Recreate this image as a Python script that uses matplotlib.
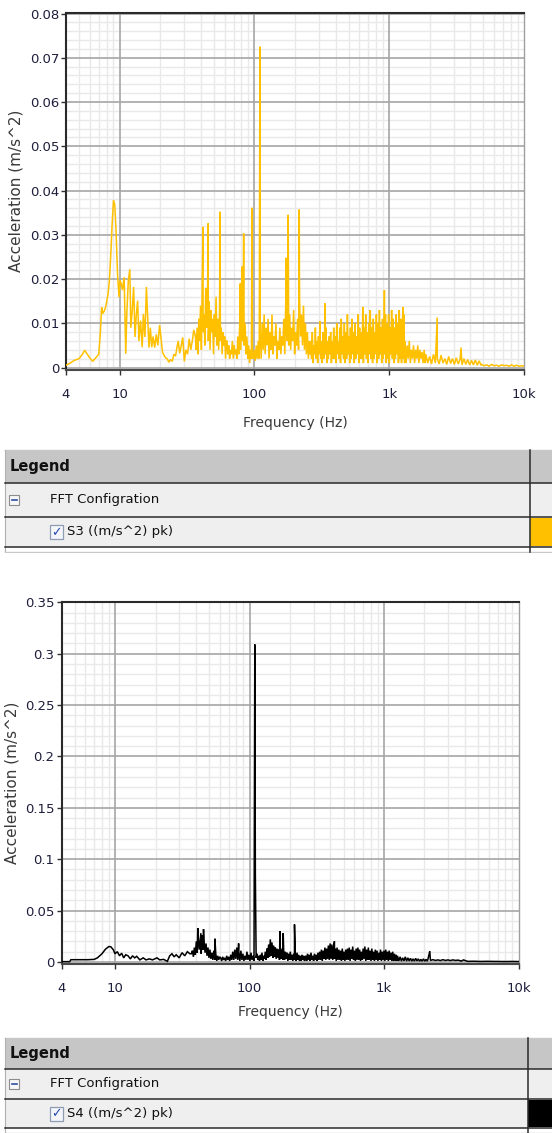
import numpy as np
import matplotlib
matplotlib.use("Agg")
import matplotlib.pyplot as plt
from matplotlib.ticker import FixedLocator, FixedFormatter, NullFormatter
from matplotlib.patches import Rectangle

plt.rcParams['font.family'] = ['DejaVu Sans']

W, H = 552, 1133

# ---- S3 spectrum (m/s^2 pk) ----
s3_trace = [(4.0, 0.0005), (4.3, 0.001), (4.6, 0.0016), (5.0, 0.002), (5.3, 0.003),
            (5.5, 0.0039), (5.9, 0.0025), (6.3, 0.0014), (6.7, 0.0023), (7.0, 0.003),
            (7.2, 0.008), (7.35, 0.0136), (7.5, 0.0122), (7.7, 0.0128), (7.9, 0.0138),
            (8.2, 0.0166), (8.4, 0.0197), (8.6, 0.0257), (8.8, 0.0325), (9.0, 0.0378),
            (9.2, 0.0368), (9.4, 0.031), (9.65, 0.021), (9.9, 0.0159), (10.05, 0.0197),
            (10.3, 0.0189), (10.5, 0.0175), (10.8, 0.0204), (11.1, 0.0031), (11.3, 0.012),
            (11.6, 0.0197), (11.9, 0.0222), (12.1, 0.009), (12.4, 0.0129), (12.7, 0.0182),
            (13.0, 0.0069), (13.3, 0.0121), (13.6, 0.0151), (13.9, 0.006), (14.3, 0.0106),
            (14.7, 0.0046), (15.0, 0.0121), (15.4, 0.0069), (15.8, 0.0182), (16.1, 0.0121),
            (16.5, 0.0045), (16.9, 0.009), (17.3, 0.0046), (17.7, 0.007), (18.2, 0.0045),
            (18.7, 0.0075), (19.2, 0.005), (19.8, 0.0096), (20.3, 0.0065), (20.8, 0.0035),
            (21.3, 0.0028), (21.9, 0.0022), (22.5, 0.002), (23.2, 0.0012), (23.9, 0.0018),
            (24.6, 0.0014), (25.3, 0.003), (26.0, 0.0026), (26.6, 0.0045), (27.2, 0.006),
            (27.9, 0.0032), (28.6, 0.0048), (29.4, 0.0068), (30.2, 0.0014), (31.0, 0.004),
            (31.9, 0.003), (32.8, 0.0065), (33.7, 0.004), (34.6, 0.006), (35.5, 0.0085),
            (36.5, 0.007)]

s3_peaks = [(41.5, 0.0318), (45.4, 0.0326), (55.6, 0.0352), (78.5, 0.019), (81.0, 0.0228),
            (83.2, 0.0303), (95.8, 0.0361), (109.8, 0.0725), (172.0, 0.0248), (178.0, 0.0345),
            (215.0, 0.0357), (333.0, 0.0145), (636.0, 0.0137), (921.0, 0.0175),
            (1265.0, 0.0137), (2270.0, 0.0113), (3410.0, 0.0045)]

s3_band_37_62 = [0.004, 0.009, 0.003, 0.011, 0.006, 0.014, 0.004, 0.02, 0.008, 0.012,
                 0.005, 0.018, 0.009, 0.014, 0.006, 0.015, 0.004, 0.013, 0.008, 0.011,
                 0.003, 0.012, 0.007, 0.016, 0.005, 0.011, 0.004, 0.013, 0.006, 0.009,
                 0.003, 0.008, 0.005, 0.007, 0.002, 0.006]
s3_band_62_95 = [0.006, 0.003, 0.005, 0.002, 0.004, 0.003, 0.006, 0.002, 0.005, 0.003,
                 0.004, 0.002, 0.007, 0.003, 0.009, 0.004, 0.012, 0.006, 0.014, 0.005,
                 0.01, 0.003, 0.007, 0.002, 0.005, 0.001, 0.004, 0.002]
s3_band_96_260 = [0.003, 0.002, 0.004, 0.0015, 0.005, 0.002, 0.006, 0.002, 0.008, 0.002,
                  0.010, 0.004, 0.012, 0.003, 0.009, 0.005, 0.011, 0.002, 0.008, 0.004,
                  0.012, 0.003, 0.007, 0.005, 0.010, 0.002, 0.006, 0.004, 0.009, 0.003,
                  0.007, 0.005, 0.011, 0.003, 0.015, 0.006, 0.02, 0.005, 0.012, 0.004,
                  0.009, 0.006, 0.013, 0.003, 0.008, 0.005, 0.011, 0.004, 0.016, 0.007,
                  0.012, 0.005, 0.014, 0.004, 0.01, 0.003, 0.008, 0.002, 0.006, 0.003]
s3_band_262_1300 = [0.006, 0.002, 0.008, 0.001, 0.005, 0.003, 0.009, 0.002, 0.006, 0.001,
                    0.007, 0.003, 0.0105, 0.002, 0.006, 0.001, 0.008, 0.002, 0.005, 0.003,
                    0.009, 0.001, 0.006, 0.002, 0.007, 0.003, 0.008, 0.001, 0.006, 0.002,
                    0.009, 0.002, 0.007, 0.001, 0.010, 0.003, 0.006, 0.002, 0.009, 0.001,
                    0.011, 0.003, 0.007, 0.002, 0.010, 0.001, 0.008, 0.002, 0.012, 0.003,
                    0.007, 0.001, 0.009, 0.002, 0.011, 0.003, 0.008, 0.001, 0.010, 0.002,
                    0.007, 0.003, 0.012, 0.001, 0.009, 0.002,
                    0.008, 0.002, 0.011, 0.001, 0.009, 0.003, 0.012, 0.002, 0.008, 0.001,
                    0.010, 0.003, 0.013, 0.002, 0.009, 0.001, 0.011, 0.002, 0.008, 0.003,
                    0.012, 0.001, 0.010, 0.002, 0.013, 0.003, 0.009, 0.001, 0.011, 0.002,
                    0.008, 0.003, 0.012, 0.001,
                    0.010, 0.002, 0.012, 0.001, 0.009, 0.003, 0.013, 0.002, 0.011, 0.001,
                    0.009, 0.002, 0.012, 0.003, 0.010, 0.001, 0.013, 0.002, 0.011, 0.001,
                    0.009, 0.002, 0.012, 0.001]
s3_band_1310_1850 = [0.006, 0.001, 0.005, 0.002, 0.006, 0.001, 0.004, 0.002, 0.005, 0.001,
                     0.004, 0.002, 0.005, 0.001, 0.004, 0.002, 0.0035, 0.001, 0.004, 0.001]
s3_band_1870_4800 = [0.003, 0.001, 0.0025, 0.0008, 0.003, 0.001, 0.002, 0.0008, 0.0028, 0.001,
                     0.002, 0.0007, 0.0025, 0.0009, 0.002, 0.0007, 0.0022, 0.0008, 0.0018, 0.0006,
                     0.002, 0.0007, 0.0018, 0.0006, 0.0016, 0.0006, 0.0017, 0.0005, 0.0015, 0.0005]
s3_band_4850_10k = [0.0007, 0.0004, 0.0006, 0.0003, 0.0007, 0.0004, 0.0005, 0.0003, 0.0006,
                    0.0004, 0.0005, 0.0003, 0.0006, 0.0003, 0.0005, 0.0003, 0.0004, 0.0003]

# ---- S4 spectrum (m/s^2 pk) ----
s4_trace = [(4.0, 0.0003), (4.6, 0.0003), (4.7, 0.0022), (5.5, 0.0022), (6.3, 0.0022),
            (7.0, 0.0025), (7.4, 0.004), (8.0, 0.008), (8.5, 0.0125), (9.0, 0.015),
            (9.3, 0.0148), (9.7, 0.012), (10.0, 0.008), (10.4, 0.01), (10.8, 0.006),
            (11.2, 0.0085), (11.6, 0.004), (12.0, 0.007), (12.5, 0.006), (13.0, 0.003),
            (13.5, 0.006), (14.0, 0.004), (14.5, 0.0055), (15.3, 0.002), (16.2, 0.004),
            (17.0, 0.002), (18.0, 0.003), (19.0, 0.002), (20.5, 0.004), (21.5, 0.002),
            (23.0, 0.0025), (24.5, 0.0006), (25.5, 0.006), (26.5, 0.008), (27.5, 0.005),
            (28.5, 0.007), (30.0, 0.004), (31.5, 0.009), (33.0, 0.006), (34.5, 0.01),
            (36.0, 0.008)]

s4_peaks = [(41.2, 0.033), (43.5, 0.028), (45.5, 0.032), (55.3, 0.0226), (83.0, 0.018),
            (109.5, 0.309), (110.5, 0.0855), (168.5, 0.030), (178.0, 0.028), (216.0, 0.0365),
            (428.0, 0.020), (2190.0, 0.0106), (3900.0, 0.002)]

s4_band_37_60 = [0.008, 0.011, 0.005, 0.014, 0.007, 0.02, 0.009, 0.024, 0.012, 0.022,
                 0.008, 0.026, 0.012, 0.02, 0.009, 0.018, 0.006, 0.014, 0.004, 0.012,
                 0.003, 0.009, 0.002, 0.011, 0.002, 0.008, 0.001, 0.006, 0.002, 0.005]
s4_band_61_108 = [0.004, 0.001, 0.005, 0.002, 0.004, 0.001, 0.006, 0.002, 0.005, 0.001,
                  0.007, 0.002, 0.01, 0.002, 0.012, 0.003, 0.014, 0.002, 0.009, 0.001,
                  0.011, 0.002, 0.008, 0.001, 0.006, 0.002, 0.01, 0.002, 0.007, 0.001,
                  0.009, 0.002, 0.006, 0.001]
s4_band_112_260 = [0.004, 0.008, 0.002, 0.006, 0.001, 0.007, 0.002, 0.009, 0.001, 0.006,
                   0.003, 0.01, 0.002, 0.013, 0.004, 0.017, 0.005, 0.022, 0.006, 0.019,
                   0.004, 0.016, 0.005, 0.014, 0.003, 0.013, 0.004, 0.012, 0.002, 0.011,
                   0.003, 0.013, 0.002, 0.012, 0.002, 0.01, 0.003, 0.009, 0.001, 0.008,
                   0.002, 0.01, 0.002, 0.007, 0.001, 0.008, 0.002, 0.006, 0.001, 0.009,
                   0.002, 0.007, 0.001, 0.006, 0.001, 0.007, 0.002, 0.006, 0.001, 0.005]
s4_band_262_1250 = [0.006, 0.001, 0.008, 0.002, 0.007, 0.001, 0.009, 0.002, 0.006, 0.001,
                    0.008, 0.002, 0.007, 0.001, 0.009, 0.002, 0.010, 0.002, 0.012, 0.001,
                    0.011, 0.003, 0.014, 0.002, 0.013, 0.003,
                    0.016, 0.002, 0.018, 0.003, 0.017, 0.002, 0.015, 0.003, 0.013, 0.001,
                    0.014, 0.002, 0.012, 0.002, 0.011, 0.001, 0.013, 0.002, 0.010, 0.001,
                    0.012, 0.002,
                    0.013, 0.002, 0.014, 0.001, 0.012, 0.003, 0.015, 0.002, 0.011, 0.001,
                    0.013, 0.002, 0.014, 0.002, 0.012, 0.001, 0.010, 0.002, 0.013, 0.003,
                    0.015, 0.001, 0.012, 0.002, 0.014, 0.002, 0.011, 0.001, 0.013, 0.002,
                    0.010, 0.001, 0.012, 0.002,
                    0.011, 0.001, 0.009, 0.002, 0.012, 0.001, 0.010, 0.002, 0.011, 0.001,
                    0.012, 0.002, 0.010, 0.001, 0.011, 0.002, 0.009, 0.001, 0.010, 0.001,
                    0.008, 0.001, 0.007, 0.001]
s4_band_1260_2100 = [0.006, 0.001, 0.005, 0.0008, 0.004, 0.001, 0.005, 0.0008, 0.004, 0.001,
                     0.0035, 0.0008, 0.003, 0.0008, 0.0035, 0.001, 0.003, 0.0008, 0.0025, 0.0008,
                     0.003, 0.0008, 0.0025, 0.0008]
s4_band_2120_3700 = [0.0025, 0.0015, 0.0022, 0.0015, 0.002, 0.0014, 0.0022, 0.0015, 0.002,
                     0.0014, 0.002, 0.0015, 0.0018, 0.0012]
s4_band_3750_10k = [0.0008, 0.0006, 0.0007, 0.0005, 0.0006, 0.0005, 0.0005, 0.0004,
                    0.0005, 0.0004]

s3_bands = [(37.0, 62.0, s3_band_37_62), (62.5, 95.0, s3_band_62_95),
            (96.5, 260.0, s3_band_96_260), (262.0, 1300.0, s3_band_262_1300),
            (1310.0, 1850.0, s3_band_1310_1850), (1870.0, 4800.0, s3_band_1870_4800),
            (4850.0, 10000.0, s3_band_4850_10k)]
s4_bands = [(37.0, 60.0, s4_band_37_60), (61.0, 108.0, s4_band_61_108),
            (112.0, 260.0, s4_band_112_260), (262.0, 1250.0, s4_band_262_1250),
            (1260.0, 2100.0, s4_band_1260_2100), (2120.0, 3700.0, s4_band_2120_3700),
            (3750.0, 10000.0, s4_band_3750_10k)]

x_ticks = [4, 10, 100, 1000, 10000]
x_ticklabels = ['4', '10', '100', '1k', '10k']
s3_yticks = [0, 0.01, 0.02, 0.03, 0.04, 0.05, 0.06, 0.07, 0.08]
s3_yticklabels = ['0', '0.01', '0.02', '0.03', '0.04', '0.05', '0.06', '0.07', '0.08']
s4_yticks = [0, 0.05, 0.1, 0.15, 0.2, 0.25, 0.3, 0.35]
s4_yticklabels = ['0', '0.05', '0.1', '0.15', '0.2', '0.25', '0.3', '0.35']


def build(trace, peaks, bands):
    f = [p[0] for p in trace] + [p[0] for p in peaks]
    a = [p[1] for p in trace] + [p[1] for p in peaks]
    for f0, f1, amps in bands:
        f.extend(np.geomspace(f0, f1, len(amps)))
        a.extend(amps)
    f = np.asarray(f)
    a = np.asarray(a)
    order = np.argsort(f)
    return f[order], a[order]


TICK_COL = '#1e1e3c'
LABEL_COL = '#3a3a3a'
MAJOR_GRID = '#a6a6a6'


def spectrum(rect, f, a, color, ylim, yticks, yticklabels, ylabel_x, xlabel_y):
    l, t, r, b = rect
    ax = fig.add_axes([l / W, 1 - b / H, (r - l) / W, (b - t) / H])
    ax.plot(f, a, color=color, lw=1.1, zorder=3, solid_joinstyle='miter')
    ax.set_xscale('log')
    ax.set_xlim(4, 10000)
    ax.set_ylim(*ylim)

    ax.xaxis.set_major_locator(FixedLocator(x_ticks))
    ax.xaxis.set_major_formatter(FixedFormatter(x_ticklabels))
    minors = [m * d for d in (1, 10, 100, 1000) for m in range(2, 10) if 4 < m * d < 10000]
    ax.xaxis.set_minor_locator(FixedLocator(minors))
    ax.xaxis.set_minor_formatter(NullFormatter())

    ax.yaxis.set_major_locator(FixedLocator(yticks))
    ax.yaxis.set_major_formatter(FixedFormatter(yticklabels))
    step = (yticks[1] - yticks[0]) / 5
    ax.yaxis.set_minor_locator(FixedLocator(np.arange(0, yticks[-1] + step / 2, step)))

    # light minor grid underneath, darker decade / value lines on top of it
    ax.grid(which='minor', color='#e9e9e9', lw=1.0)
    ax.set_axisbelow(True)
    for x in x_ticks[1:-1]:
        ax.axvline(x, color=MAJOR_GRID, lw=1.2, zorder=1)
    for y in yticks:
        ax.axhline(y, color=MAJOR_GRID, lw=1.2, zorder=1)

    ax.tick_params(which='major', length=3.5, width=1.0, color='#303030',
                   labelcolor=TICK_COL, labelsize=9.5)
    ax.tick_params(axis='x', which='major', pad=10)
    ax.tick_params(axis='y', which='major', pad=1.5)
    ax.tick_params(which='minor', length=0)

    for side in ('left', 'top'):
        ax.spines[side].set_color('#2a2a2a')
        ax.spines[side].set_linewidth(1.5)
    ax.spines['bottom'].set_color('#4a4a4a')
    ax.spines['bottom'].set_linewidth(1.5)
    ax.spines['right'].set_color('#a0a0a0')
    ax.spines['right'].set_linewidth(1.0)

    fig.text(ylabel_x / W, 1 - (t + b) / 2 / H, 'Acceleration (m/s^2)', rotation=90,
             ha='center', va='center', fontsize=11, color=LABEL_COL)
    fig.text((l + r) / 2 / W, 1 - xlabel_y / H, 'Frequency (Hz)',
             ha='center', va='center', fontsize=10, color=LABEL_COL)
    return ax


def legend_table(top, rows, divider_x, swatch, series_label):
    # rows: y positions of header bottom, row1 bottom, row2 bottom
    hb, r1, r2 = rows
    bottom = r2 + 6
    lax = fig.add_axes([0, 1 - bottom / H, 1, (bottom - top + 2) / H])
    lax.set_xlim(0, W)
    lax.set_ylim(bottom, top - 2)
    lax.axis('off')

    lax.add_patch(Rectangle((5, top), W - 5, hb - top, facecolor='#c6c6c6', edgecolor='none'))
    lax.add_patch(Rectangle((5, hb), W - 5, r1 - hb, facecolor='#efefef', edgecolor='none'))
    lax.add_patch(Rectangle((5, r1), W - 5, r2 - r1, facecolor='#efefef', edgecolor='none'))
    lax.add_patch(Rectangle((divider_x, r1 + 1), W - divider_x, r2 - r1 - 2,
                            facecolor=swatch, edgecolor='none'))

    lax.plot([5, W], [top, top], color='#c8c8c8', lw=1.0)
    lax.plot([5, 5], [top, r2 + 5], color='#b0b0b0', lw=0.8)
    for y in (hb, r1, r2):
        lax.plot([5, W], [y, y], color='#2a2a2a', lw=1.1)
    lax.plot([5, W], [r2 + 5, r2 + 5], color='#c8c8c8', lw=1.0)
    lax.plot([divider_x, divider_x], [top, r2 + 5], color='#2a2a2a', lw=1.1)

    lax.text(10, (top + hb) / 2, 'Legend', fontsize=10.5, fontweight='bold',
             color='#111111', va='center', ha='left')

    cy = (hb + r1) / 2
    lax.add_patch(Rectangle((9, cy - 5), 10, 10, facecolor='#f7f7f7', edgecolor='#8c8c8c', lw=0.8))
    lax.plot([11.5, 16.5], [cy, cy], color='#3050a0', lw=1.2)
    lax.text(50, cy, 'FFT Configration', fontsize=9.5, color='#111111', va='center', ha='left')

    ry = (r1 + r2) / 2
    lax.add_patch(Rectangle((50, ry - 7), 13, 14, facecolor='#f4f6fa', edgecolor='#8d9bb3', lw=0.9))
    lax.text(56.5, ry + 0.5, '\u2713', fontsize=9, color='#2a48b0', va='center', ha='center',
             fontweight='bold')
    lax.text(67, ry, series_label, fontsize=9.5, color='#111111', va='center', ha='left')


fig = plt.figure(figsize=(W / 100, H / 100), dpi=100)

f3, a3 = build(s3_trace, s3_peaks, s3_bands)
f4, a4 = build(s4_trace, s4_peaks, s4_bands)

spectrum((66, 12.5, 524, 369.5), f3, a3, '#FFC000', (-0.00045, 0.08023),
         s3_yticks, s3_yticklabels, ylabel_x=16, xlabel_y=423)
spectrum((61.5, 602, 518.5, 963.5), f4, a4, '#000000', (-0.0015, 0.3503),
         s4_yticks, s4_yticklabels, ylabel_x=12, xlabel_y=1012)

legend_table(450, (483, 517, 547), 530, '#FFC000', 'S3 ((m/s^2) pk)')
legend_table(1038, (1069, 1099, 1128), 528, '#000000', 'S4 ((m/s^2) pk)')

fig.savefig('out.png', dpi=100, facecolor='white')
